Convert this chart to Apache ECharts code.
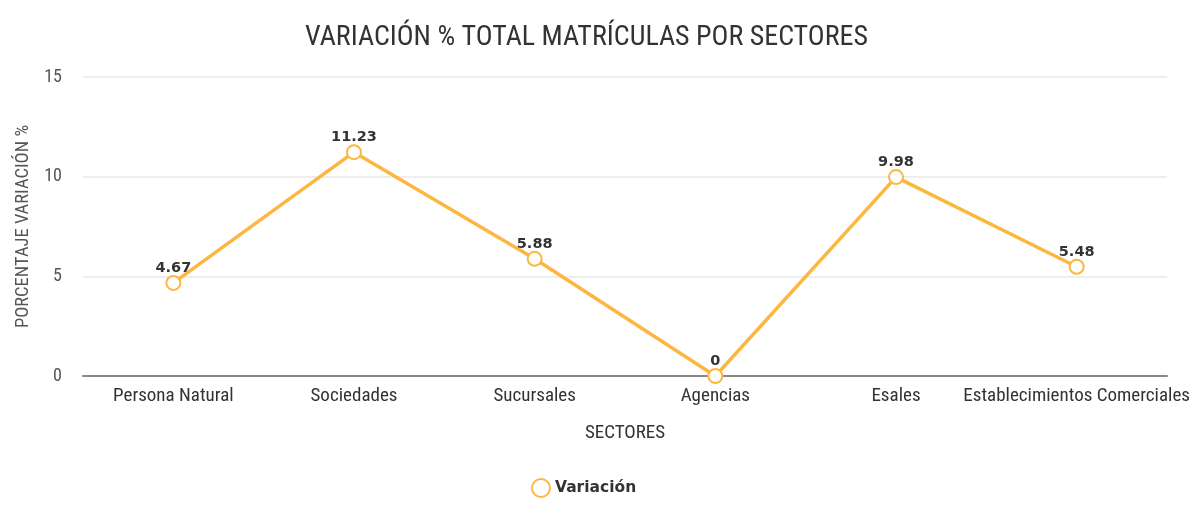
<!DOCTYPE html>
<html>
<head>
<meta charset="utf-8">
<script src="https://cdn.jsdelivr.net/npm/echarts@6/dist/echarts.min.js"></script>
<style>
  html, body { margin: 0; padding: 0; background: #fff; }
  #chart { width: 1199px; height: 508px; }
</style>
</head>
<body>
<div id="chart"></div>
<script>
// sectores y variación %
var categories = ["Persona Natural", "Sociedades", "Sucursales", "Agencias", "Esales", "Establecimientos Comerciales"];
var variacion = [4.67, 11.23, 5.88, 0, 9.98, 5.48];
var yTicks = [0, 5, 10, 15];

var fontFam = "'Roboto Condensed', 'Liberation Sans Narrow', Roboto, sans-serif";

var chart = echarts.init(document.getElementById("chart"));
var option = {
  title: {
    text: "VARIACIÓN % TOTAL MATRÍCULAS POR SECTORES",
    left: 300,
    top: 19,
    textStyle: { fontFamily: fontFam, fontSize: 28, fontWeight: "normal", color: "#333" }
  },
  legend: {
    bottom: 5,
    left: 526,
    data: ["Variación"],
    icon: "emptyCircle",
    itemWidth: 18,
    itemHeight: 18,
    itemGap: 6,
    itemStyle: { borderWidth: 4 },
    textStyle: { fontFamily: "'DejaVu Sans', sans-serif", fontSize: 15.5, fontWeight: "bold", color: "#333" }
  },
  // distancia del grid
  grid: { left: 83, right: 32, top: 77, bottom: 132, outerBoundsMode: "none" },
  xAxis: {
    type: "category",
    data: categories,
    name: "SECTORES",
    nameLocation: "middle",
    nameGap: 48,
    nameTextStyle: { fontFamily: fontFam, fontSize: 19, color: "#333" },
    axisLine: { lineStyle: { color: "#888", width: 2 } },
    axisTick: { alignWithLabel: true, length: 7, lineStyle: { color: "#555" } },
    axisLabel: { fontFamily: fontFam, fontSize: 19, color: "#333", margin: 11, interval: 0 }
  },
  yAxis: {
    type: "value",
    min: yTicks[0],
    max: yTicks[yTicks.length - 1],
    interval: 5,
    name: "PORCENTAJE VARIACIÓN %",
    nameLocation: "middle",
    nameGap: 50,
    nameTextStyle: { fontFamily: fontFam, fontSize: 18.5, color: "#555" },
    axisLine: { show: false },
    axisTick: { show: false },
    axisLabel: { fontFamily: fontFam, fontSize: 18, color: "#555", margin: 21 },
    splitLine: { lineStyle: { color: "#eee", width: 2 } }
  },
  series: [
    {
      name: "Variación",
      type: "line",
      data: variacion,
      color: "#FDB740",
      symbol: "emptyCircle",
      symbolSize: 14,
      lineStyle: { width: 3.5 },
      itemStyle: { borderWidth: 3.5 },
      label: {
        show: true,
        position: "top",
        distance: -1,
        fontFamily: "'DejaVu Sans', sans-serif",
        fontSize: 14.5,
        fontWeight: "bold",
        color: "#333"
      }
    }
  ]
};
chart.setOption(option);
</script>
</body>
</html>
